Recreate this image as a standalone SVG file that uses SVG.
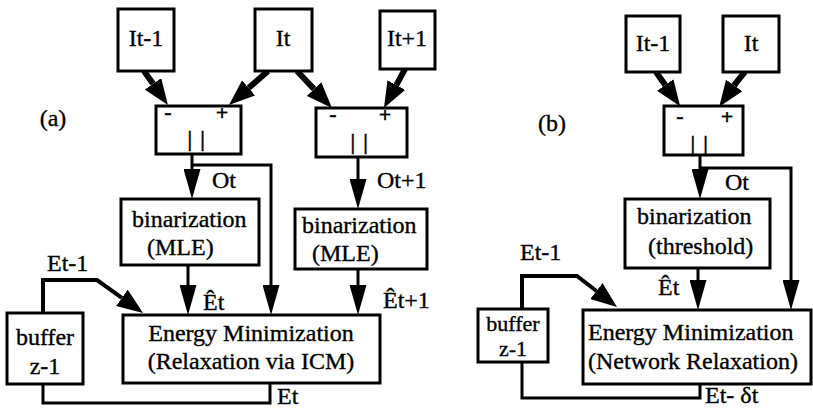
<svg xmlns="http://www.w3.org/2000/svg" width="813" height="410" viewBox="0 0 813 410">
  <style>
    .box { fill: #fff; stroke: #000; stroke-width: 3; }
    .wire { fill: none; stroke: #000; stroke-width: 3; }
    .thick { fill: none; stroke: #000; stroke-width: 6; }
    .mid { fill: none; stroke: #000; stroke-width: 4; }
    text { font-family: "Liberation Serif", "Times New Roman", serif; font-size: 24px; fill: #000; stroke: #000; stroke-width: 0.35; }
    .c { text-anchor: middle; }
    .sign { font-size: 22px; font-weight: bold; text-anchor: middle; }
    .bars { font-size: 21px; font-weight: bold; text-anchor: middle; letter-spacing: 1.5px; }
    .small { font-size: 22px; }
  </style>
  <defs>
    <!-- wide head for the short diagonal feeds -->
    <marker id="headWide" markerUnits="userSpaceOnUse" viewBox="0 0 26 20" markerWidth="26" markerHeight="20" refX="0" refY="10" orient="auto">
      <path d="M0,0 L26,10 L0,20 Z" fill="#000"/>
    </marker>
    <!-- long narrow head for the vertical feeds -->
    <marker id="headLong" markerUnits="userSpaceOnUse" viewBox="0 0 30 17" markerWidth="30" markerHeight="17" refX="0" refY="8.5" orient="auto">
      <path d="M0,0 L30,8.5 L0,17 Z" fill="#000"/>
    </marker>
  </defs>

  <rect width="813" height="410" fill="#fff"/>

  <!-- ================= panel (a) ================= -->
  <text x="53" y="126" class="c">(a)</text>

  <g id="connectors-a">
    <line class="thick" x1="144" y1="71" x2="153" y2="83.8" marker-end="url(#headWide)"/>
    <line class="thick" x1="268" y1="71" x2="248.6" y2="87.9" marker-end="url(#headWide)"/>
    <line class="thick" x1="297" y1="71" x2="314.1" y2="89.1" marker-end="url(#headWide)"/>
    <line class="thick" x1="405" y1="69" x2="396.3" y2="85.1" marker-end="url(#headWide)"/>
    <line class="wire" x1="192" y1="154" x2="192" y2="169" marker-end="url(#headLong)"/>
    <polyline class="wire" points="192,165 271,165 271,285" marker-end="url(#headLong)"/>
    <line class="wire" x1="358" y1="157" x2="358" y2="179" marker-end="url(#headLong)"/>
    <line class="wire" x1="188" y1="265" x2="188" y2="285" marker-end="url(#headLong)"/>
    <line class="wire" x1="358" y1="269" x2="358" y2="285" marker-end="url(#headLong)"/>
    <polyline class="mid" points="43,313 43,280 97,280 121.9,297.8" marker-end="url(#headWide)"/>
    <polyline class="wire" points="43,384 43,403 270,403 270,383"/>
  </g>

  <g id="img-prev-a">
    <rect class="box" x="118" y="9" width="56" height="62"/>
    <text x="146" y="46" class="c">It-1</text>
  </g>
  <g id="img-cur-a">
    <rect class="box" x="255" y="9" width="57" height="62"/>
    <text x="283" y="46" class="c">It</text>
  </g>
  <g id="img-next-a">
    <rect class="box" x="380" y="11" width="55" height="58"/>
    <text x="407" y="46" class="c">It+1</text>
  </g>
  <g id="diff1-a">
    <rect class="box" x="156" y="106" width="85" height="48"/>
    <text x="168" y="119" class="sign">-</text>
    <text x="222" y="120" class="sign">+</text>
    <text x="197" y="146" class="bars">| |</text>
  </g>
  <g id="diff2-a">
    <rect class="box" x="316" y="108" width="91" height="49"/>
    <text x="333" y="121" class="sign">-</text>
    <text x="385" y="122" class="sign">+</text>
    <text x="360" y="149" class="bars">| |</text>
  </g>
  <g id="bin1-a">
    <rect class="box" x="121" y="199" width="138" height="66"/>
    <text x="132" y="227">binarization</text>
    <text x="147" y="255">(MLE)</text>
  </g>
  <g id="bin2-a">
    <rect class="box" x="295" y="209" width="132" height="60"/>
    <text x="302" y="233">binarization</text>
    <text x="312" y="261">(MLE)</text>
  </g>
  <g id="energy-a">
    <rect class="box" x="123" y="315" width="257" height="68"/>
    <text x="251" y="341" class="c">Energy Minimization</text>
    <text x="251" y="369" class="c">(Relaxation via ICM)</text>
  </g>
  <g id="buffer-a">
    <rect class="box" x="7" y="313" width="76" height="71"/>
    <text x="45" y="345" class="c">buffer</text>
    <text x="45" y="374" class="c">z-1</text>
  </g>
  <g id="labels-a">
    <text x="212" y="188">Ot</text>
    <text x="377" y="188">Ot+1</text>
    <text x="47" y="271">Et-1</text>
    <text x="203" y="310">Êt</text>
    <text x="383" y="308">Êt+1</text>
    <text x="277" y="404">Et</text>
  </g>

  <!-- ================= panel (b) ================= -->
  <text x="552" y="131" class="c">(b)</text>

  <g id="connectors-b">
    <path class="thick" d="M656,72 Q661,79 665.2,85" marker-end="url(#headWide)"/>
    <path class="thick" d="M745,72 Q738,80 734.2,85.4" marker-end="url(#headWide)"/>
    <line class="wire" x1="700" y1="155" x2="700" y2="169" marker-end="url(#headLong)"/>
    <polyline class="wire" points="700,168 791,168 791,280" marker-end="url(#headLong)"/>
    <line class="wire" x1="698" y1="268" x2="698" y2="280" marker-end="url(#headLong)"/>
    <polyline class="mid" points="522,309 522,276 577,276 596.4,291" marker-end="url(#headWide)"/>
    <polyline class="wire" points="522,362 522,398 700,398 700,384"/>
  </g>

  <g id="img-prev-b">
    <rect class="box" x="626" y="16" width="54" height="56"/>
    <text x="653" y="51" class="c">It-1</text>
  </g>
  <g id="img-cur-b">
    <rect class="box" x="723" y="16" width="56" height="56"/>
    <text x="751" y="51" class="c">It</text>
  </g>
  <g id="diff-b">
    <rect class="box" x="664" y="106" width="79" height="49"/>
    <text x="680" y="123" class="sign">-</text>
    <text x="727" y="124" class="sign">+</text>
    <text x="700" y="151" class="bars">| |</text>
  </g>
  <g id="bin-b">
    <rect class="box" x="625" y="199" width="145" height="69"/>
    <text x="637" y="224">binarization</text>
    <text x="648" y="254">(threshold)</text>
  </g>
  <g id="energy-b">
    <rect class="box" x="583" y="310" width="228" height="74"/>
    <text x="588" y="340">Energy Minimization</text>
    <text x="588" y="369">(Network Relaxation)</text>
  </g>
  <g id="buffer-b">
    <rect class="box" x="478" y="309" width="70" height="53"/>
    <text x="513" y="331" class="c small">buffer</text>
    <text x="513" y="356" class="c small">z-1</text>
  </g>
  <g id="labels-b">
    <text x="725" y="190">Ot</text>
    <text x="520" y="260">Et-1</text>
    <text x="658" y="295">Êt</text>
    <text x="705" y="403">Et- δt</text>
  </g>
</svg>
